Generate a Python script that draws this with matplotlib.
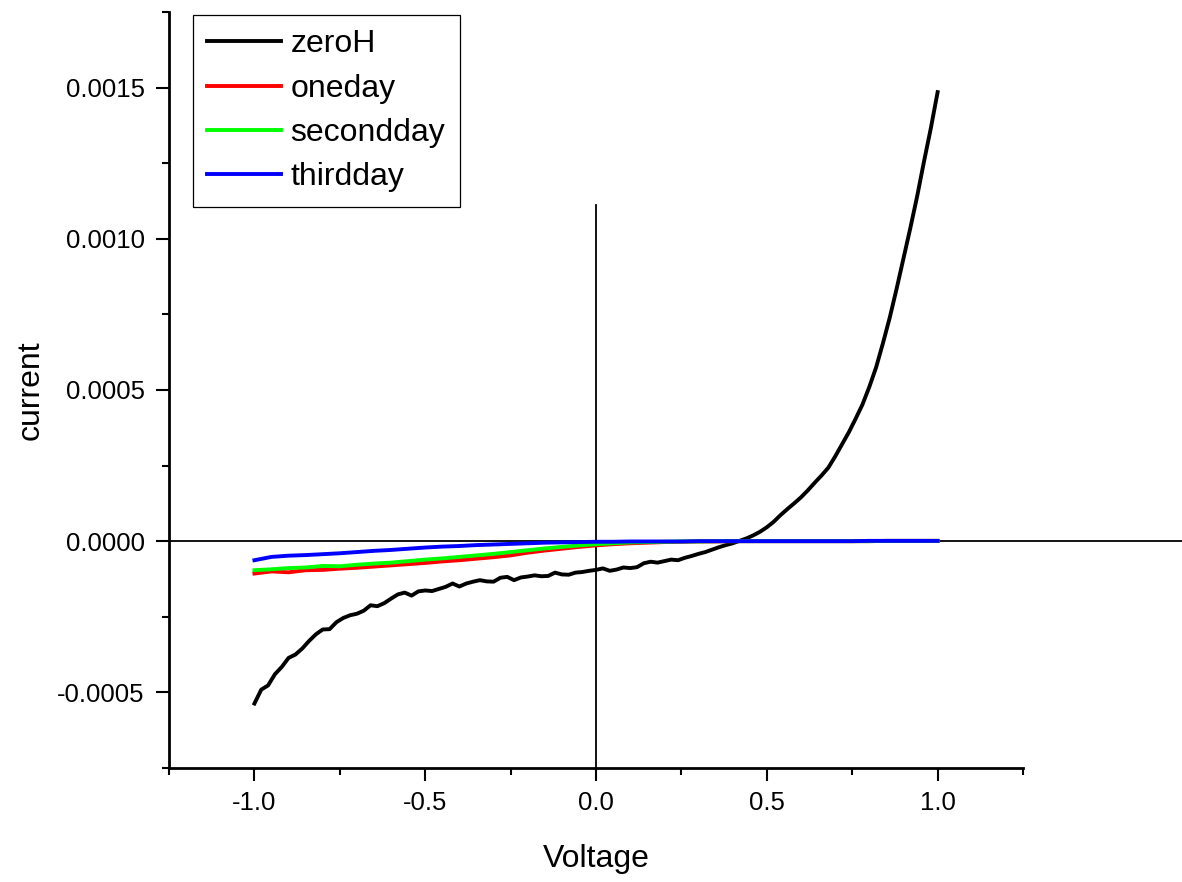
import matplotlib
matplotlib.use('Agg')
import matplotlib.pyplot as plt
from matplotlib.ticker import MultipleLocator, FormatStrFormatter

plt.rcParams['font.family'] = ['Liberation Sans', 'DejaVu Sans']
plt.rcParams['axes.unicode_minus'] = False

# zeroH curve (V, A)
v_zero = [-1.00, -0.98, -0.96, -0.94, -0.92, -0.90, -0.88, -0.86, -0.84, -0.82,
          -0.80, -0.78, -0.76, -0.74, -0.72, -0.70, -0.68, -0.66, -0.64, -0.62,
          -0.60, -0.58, -0.56, -0.54, -0.52, -0.50, -0.48, -0.46, -0.44, -0.42,
          -0.40, -0.38, -0.36, -0.34, -0.32, -0.30, -0.28, -0.26, -0.24, -0.22,
          -0.20, -0.18, -0.16, -0.14, -0.12, -0.10, -0.08, -0.06, -0.04, -0.02,
          0.00, 0.02, 0.04, 0.06, 0.08, 0.10, 0.12, 0.14, 0.16, 0.18,
          0.20, 0.22, 0.24, 0.26, 0.28, 0.30, 0.32, 0.34, 0.36, 0.38,
          0.40, 0.42, 0.44, 0.46, 0.48, 0.50, 0.52, 0.54, 0.56, 0.58,
          0.60, 0.62, 0.64, 0.66, 0.68, 0.70, 0.72, 0.74, 0.76, 0.78,
          0.80, 0.82, 0.84, 0.86, 0.88, 0.90, 0.92, 0.94, 0.96, 0.98, 1.00]
i_zero = [-537, -491, -477, -440, -416, -386, -375, -355, -330, -308,
          -292, -291, -268, -254, -245, -240, -230, -212, -215, -205,
          -190, -176, -170, -180, -166, -163, -165, -158, -151, -140,
          -150, -140, -134, -129, -133, -134, -121, -118, -129, -120,
          -117, -113, -116, -115, -104, -110, -111, -104, -102, -98,
          -95, -90, -98, -94, -87, -89, -86, -73, -68, -71,
          -66, -61, -63, -55, -49, -42, -36, -28, -20, -13,
          -7, 1, 9, 19, 31, 46, 64, 86, 106, 125,
          145, 168, 193, 217, 243, 280, 320, 360, 405, 452,
          510, 575, 655, 740, 835, 935, 1035, 1140, 1255, 1365, 1485]

# the three aged samples, on a 0.05 V grid
v_day = [-1.00, -0.95, -0.90, -0.85, -0.80, -0.75, -0.70, -0.65, -0.60, -0.55,
         -0.50, -0.45, -0.40, -0.35, -0.30, -0.25, -0.20, -0.15, -0.10, -0.05,
         0.00, 0.05, 0.10, 0.15, 0.20, 0.25, 0.30, 0.35, 0.40, 0.45,
         0.50, 0.55, 0.60, 0.65, 0.70, 0.75, 0.80, 0.85, 0.90, 0.95, 1.00]
i_one = [-107, -100, -103, -96, -95, -91, -88, -84, -80, -76,
         -72, -67, -63, -58, -53, -47, -38, -31, -25, -19,
         -14, -10, -7, -5, -3, -2, -1, -1, 0, 0,
         0, 0, 0, 0, 0, 0, 0, 1, 1, 1, 1]
i_two = [-96, -93, -89, -87, -82, -83, -78, -74, -71, -66,
         -61, -57, -52, -47, -42, -36, -30, -24, -19, -14,
         -10, -7, -4, -3, -2, -1, -1, 0, 0, 0,
         0, 0, 0, 0, 0, 0, 0, 1, 1, 1, 1]
i_three = [-63, -52, -48, -46, -43, -40, -36, -32, -29, -25,
           -21, -18, -16, -13, -11, -9, -7, -5, -4, -3,
           -2, -2, -1, -1, -1, -1, 0, 0, 0, 0,
           0, 0, 0, 0, 0, 0, 1, 1, 1, 1, 1]

series = [('zeroH', v_zero, i_zero, 'black'),
          ('oneday', v_day, i_one, '#ff0000'),
          ('secondday', v_day, i_two, '#00ff00'),
          ('thirdday', v_day, i_three, '#0000ff')]

fig = plt.figure(figsize=(11.82, 8.82), dpi=100)
ax = fig.add_axes([0.143, 0.1293, 0.7225, 0.8571])

for name, v, i, c in series:
    ax.plot(v, [x * 1e-6 for x in i], color=c, lw=2.8, label=name)

# reference lines through the origin (horizontal one runs past the axes)
ax.axhline(0, xmin=0, xmax=1.2, color='black', lw=1.3, clip_on=False, zorder=1)
ax.axvline(0, ymin=0, ymax=0.745, color='black', lw=1.3, zorder=1)

ax.set_xlim(-1.25, 1.25)
ax.set_ylim(-0.00075, 0.00175)
ax.xaxis.set_major_locator(MultipleLocator(0.5))
ax.xaxis.set_minor_locator(MultipleLocator(0.25))
ax.yaxis.set_major_locator(MultipleLocator(0.0005))
ax.yaxis.set_minor_locator(MultipleLocator(0.00025))
ax.xaxis.set_major_formatter(FormatStrFormatter('%.1f'))
ax.yaxis.set_major_formatter(FormatStrFormatter('%.4f'))

for s in ['top', 'right']:
    ax.spines[s].set_visible(False)
for s in ['left', 'bottom']:
    ax.spines[s].set_linewidth(2)

ax.tick_params(which='major', direction='out', length=9.5, width=1.5, labelsize=18.5)
ax.tick_params(which='minor', direction='out', length=5, width=1.5)
ax.tick_params(axis='x', which='major', pad=7)
ax.tick_params(axis='y', which='major', pad=8)

ax.set_xlabel('Voltage', fontsize=23, labelpad=21)
ax.set_ylabel('current', fontsize=23, labelpad=8.5)

leg = ax.legend(loc='upper left', bbox_to_anchor=(193 / 1182, 1 - 15 / 882),
                bbox_transform=fig.transFigure, borderaxespad=0, fontsize=23,
                fancybox=False, edgecolor='black', framealpha=1,
                borderpad=0.45, labelspacing=0.45, handlelength=2.3,
                handletextpad=0.3)
leg.get_frame().set_linewidth(0.9)

fig.savefig('out.png', dpi=100)
